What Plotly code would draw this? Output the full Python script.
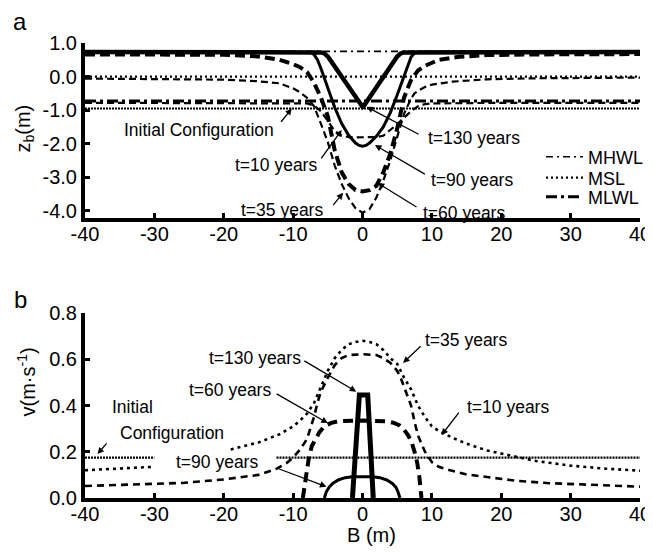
import plotly.graph_objects as go

# ---------------- data: panel a (bed elevation z_b, m) ----------------
B_REF = [-40, 40]
MHWL = [0.75, 0.75]
MSL = [0.0, 0.0]
MLWL = [-0.73, -0.73]
INIT_A = [-0.95, -0.95]

T10_A_X = [-40, -20, -10, -8, -7, -6, -5, -4, -3, -2, -1, 0, 1, 2, 3, 4, 5, 6, 7, 8, 9, 10, 20, 40]
T10_A_Z = [-0.78, -0.78, -0.79, -0.8, -0.86, -1.03, -1.32, -1.62, -1.76, -1.8, -1.81, -1.81, -1.81, -1.8,
           -1.76, -1.6, -1.42, -1.22, -1.03, -0.88, -0.82, -0.8, -0.78, -0.78]

T35_A_X = [-40, -25, -20, -15, -12, -10, -9, -8, -7, -6, -5, -4, -3, -2, -1, 0, 1, 2, 3, 4, 5, 6, 7, 7.5,
           8, 9, 10, 13, 18, 25, 40]
T35_A_Z = [-0.06, -0.07, -0.09, -0.14, -0.2, -0.35, -0.47, -0.63, -0.88, -1.4, -1.95, -2.65, -3.2, -3.62,
           -3.92, -4.05, -3.95, -3.6, -3.1, -2.5, -1.8, -1.1, -0.65, -0.5, -0.42, -0.31, -0.24, -0.15,
           -0.08, -0.05, -0.03]

T60_A_X = [-40, -25, -20, -15, -12, -10, -9, -8, -7, -6, -5, -4, -3, -2, -1, 0, 1, 2, 3, 4, 5, 6, 7, 8, 9,
           11, 14, 18, 25, 40]
T60_A_Z = [0.66, 0.66, 0.65, 0.6, 0.5, 0.37, 0.28, 0.14, -0.18, -0.62, -1.18, -2.2, -2.85, -3.2, -3.38,
           -3.42, -3.38, -3.25, -2.85, -2.3, -1.55, -0.62, -0.1, 0.18, 0.32, 0.5, 0.59, 0.64, 0.66, 0.67]

T90_A_X = [-40, -8, -7.5, -7, -6.5, -6, -5, -4, -3, -2, -1, -0.5, 0, 0.5, 1, 2, 3, 4, 5, 6, 6.5, 7, 7.5, 8, 40]
T90_A_Z = [0.73, 0.73, 0.72, 0.66, 0.5, 0.25, -0.35, -0.92, -1.4, -1.75, -1.98, -2.05, -2.07, -2.05,
           -1.98, -1.78, -1.5, -1.08, -0.55, 0.02, 0.32, 0.58, 0.7, 0.73, 0.73]

T130_A_X = [-40, -6.5, -6, -5.5, -5, -4.5, -4, -3, -2, -1, -0.3, 0, 0.3, 1, 2, 3, 4, 4.5, 5, 5.5, 6, 40]
T130_A_Z = [0.73, 0.73, 0.72, 0.69, 0.6, 0.45, 0.3, -0.02, -0.33, -0.62, -0.84, -0.9, -0.84, -0.62,
            -0.33, -0.02, 0.3, 0.45, 0.6, 0.69, 0.72, 0.73]

# ---------------- data: panel b (velocity v, m/s) ----------------
INIT_B_X = [-40, -30, None, -12.4, 40]
INIT_B_V = [0.175, 0.175, None, 0.175, 0.175]

T10_B_X = [-40, -35, -30, None, -19, -15, -12, -10, -9, -8, -7, -6, -5, -4, -3, -2, -1, 0, 1, 2, 3, 4, 5,
           6, 7, 8, 9, 10, 11, 13, 15, 18, 21, 25, 30, 35, 40]
T10_B_V = [0.12, 0.128, 0.135, None, 0.21, 0.24, 0.275, 0.31, 0.335, 0.365, 0.41, 0.48, 0.55, 0.605, 0.64,
           0.665, 0.675, 0.68, 0.675, 0.665, 0.64, 0.605, 0.58, 0.52, 0.47, 0.4, 0.35, 0.31, 0.29, 0.26,
           0.235, 0.205, 0.185, 0.16, 0.14, 0.127, 0.118]

T35_B_X = [-40, -30, -26, -20, -15, -12.5, -11, -10, -9, -8, -7.5, -7, -6.5, -6, -5, -4, -3, -2, 0, 2, 3,
           4, 5, 5.5, 6, 6.5, 7, 7.5, 8, 9, 10, 11, 12, 15, 18, 22, 27, 33, 40]
T35_B_V = [0.052, 0.06, 0.065, 0.08, 0.1, 0.125, 0.15, 0.175, 0.21, 0.255, 0.3, 0.35, 0.41, 0.46, 0.52,
           0.575, 0.605, 0.618, 0.622, 0.618, 0.605, 0.585, 0.55, 0.52, 0.48, 0.44, 0.4, 0.33, 0.27, 0.2,
           0.155, 0.135, 0.125, 0.102, 0.09, 0.075, 0.064, 0.056, 0.049]

T60_B_X = [-8.6, -8.3, -8.0, -7.7, -7.3, -6.9, -6.2, -5.5, -4.5, -3.5, 0, 3.5, 4.5, 5.3, 6.0, 6.6, 7.1,
           7.5, 7.9, 8.2, 8.5]
T60_B_V = [0.0, 0.07, 0.13, 0.18, 0.225, 0.25, 0.285, 0.31, 0.325, 0.332, 0.335, 0.332, 0.325, 0.315,
           0.295, 0.27, 0.24, 0.2, 0.15, 0.09, 0.0]

T90_B_X = [-5.5, -5.2, -4.8, -4.3, -3.5, -2.5, -1.5, 0, 1.5, 2.5, 3.5, 4.3, 4.8, 5.1, 5.4]
T90_B_V = [0.0, 0.028, 0.047, 0.063, 0.078, 0.088, 0.092, 0.093, 0.092, 0.088, 0.078, 0.063, 0.047,
           0.028, 0.0]

T130_B_X = [-1.45, -0.45, 0.75, 1.55]
T130_B_V = [0.0, 0.445, 0.445, 0.0]

X_TICKS = [-40, -30, -20, -10, 0, 10, 20, 30, 40]
X_TICKTEXT = ["-40", "-30", "-20", "-10", "0", "10", "20", "30", "40"]
YA_TICKS = [1.0, 0.0, -1.0, -2.0, -3.0, -4.0]
YA_TICKTEXT = ["1.0", "0.0", "-1.0", "-2.0", "-3.0", "-4.0"]
YB_TICKS = [0.0, 0.2, 0.4, 0.6, 0.8]
YB_TICKTEXT = ["0.0", "0.2", "0.4", "0.6", "0.8"]

FONT = "Arial, Liberation Sans, Helvetica, sans-serif"
BLACK = "black"

# The page body has an 8px default margin: the figure is sized/offset to compensate.
PAGE_OFF = 8
PLOT_L, PLOT_R, PLOT_T, PLOT_B = 85, 640, 43, 498   # plot area in page pixels
FIG_W, FIG_H = 653 - PAGE_OFF, 555 - PAGE_OFF

fig = go.Figure()


def add(x, y, width, dash, xa="x", ya="y", name=None, legend=None):
    fig.add_trace(go.Scatter(
        x=x, y=y, mode="lines", xaxis=xa, yaxis=ya, name=name, showlegend=legend is not None,
        legend=legend if legend else "legend",
        line=dict(color=BLACK, width=width, dash=dash), connectgaps=False, hoverinfo="skip"))


# panel a reference levels
add(B_REF, MHWL, 1.6, "7px,4px,2px,4px", name="MHWL", legend="legend")
add(B_REF, MSL, 2.2, "2px,3px", name="MSL", legend="legend2")
add(B_REF, MLWL, 3, "11px,4px,3px,4px", name="MLWL", legend="legend3")
add(B_REF, INIT_A, 2.2, "2px,1px")
# panel a profiles
add(T10_A_X, T10_A_Z, 2.2, "7px,4px")
add(T35_A_X, T35_A_Z, 2.2, "7px,4px")
add(T60_A_X, T60_A_Z, 4, "10px,5px")
add(T90_A_X, T90_A_Z, 3, "solid")
add(T130_A_X, T130_A_Z, 4.5, "solid")

# panel b
add(INIT_B_X, INIT_B_V, 2.2, "2px,1px", xa="x2", ya="y2")
add(T10_B_X, T10_B_V, 2.6, "3px,4px", xa="x2", ya="y2")
add(T35_B_X, T35_B_V, 2.6, "7px,5px", xa="x2", ya="y2")
add(T60_B_X, T60_B_V, 4, "10px,6px", xa="x2", ya="y2")
add(T90_B_X, T90_B_V, 3, "solid", xa="x2", ya="y2")
add(T130_B_X, T130_B_V, 5, "solid", xa="x2", ya="y2")

axis_common = dict(showgrid=False, zeroline=False, showline=True, linecolor=BLACK, linewidth=4,
                   ticks="inside", ticklen=5, tickwidth=2.5, tickcolor=BLACK,
                   tickfont=dict(family=FONT, size=20, color=BLACK))
x_common = dict(axis_common, ticklabelstandoff=-5)

PW = PLOT_R - PLOT_L
PH = PLOT_B - PLOT_T


def px_to_paper(px, py):
    return (px - PLOT_L) / PW, (PLOT_B - py) / PH


def legend_at(py):
    lx, ly = px_to_paper(541, py)
    return dict(x=lx, y=ly, xanchor="left", yanchor="middle", bgcolor="rgba(0,0,0,0)",
                font=dict(family=FONT, size=18, color=BLACK), itemwidth=37, borderwidth=0)


fig.update_layout(
    width=FIG_W, height=FIG_H,
    margin=dict(l=PLOT_L - PAGE_OFF, r=FIG_W - (PLOT_R - PAGE_OFF), t=PLOT_T - PAGE_OFF,
                b=FIG_H - (PLOT_B - PAGE_OFF), autoexpand=False),
    paper_bgcolor="white", plot_bgcolor="white",
    font=dict(family=FONT, color=BLACK),
    xaxis=dict(domain=[0, 1], range=[-40, 40], anchor="y", tickvals=X_TICKS, ticktext=X_TICKTEXT,
               **x_common),
    yaxis=dict(domain=[(PLOT_B - 218) / PH, 1.0], range=[-4.21, 1.0], anchor="x", tickvals=YA_TICKS,
               ticktext=YA_TICKTEXT, **axis_common),
    xaxis2=dict(domain=[0, 1], range=[-40, 40], anchor="y2", tickvals=X_TICKS, ticktext=X_TICKTEXT,
                **x_common),
    yaxis2=dict(domain=[0, (PLOT_B - 313) / PH], range=[0, 0.8], anchor="x2", tickvals=YB_TICKS,
                ticktext=YB_TICKTEXT, **axis_common),
    legend=legend_at(157),
    legend2=legend_at(178),
    legend3=legend_at(197),
)

ANN_SIZE = 17.5


def label(text, x, y, xref="x", yref="y", size=ANN_SIZE, **kw):
    fig.add_annotation(text=text, x=x, y=y, xref=xref, yref=yref, showarrow=False,
                       xanchor="center", yanchor="middle",
                       font=dict(family=FONT, size=size, color=BLACK), **kw)


def arrow(tip_x, tip_y, tail_x, tail_y, xref="x", yref="y"):
    fig.add_annotation(text="", x=tip_x, y=tip_y, ax=tail_x, ay=tail_y, xref=xref, yref=yref,
                       axref=xref, ayref=yref, showarrow=True, arrowhead=2, arrowsize=1,
                       arrowwidth=1.3, arrowcolor=BLACK)


# panel a labels
label("Initial Configuration", -23.5, -1.59)
arrow(-10.2, -0.95, -11.9, -1.39)
label("t=10 years", -12.5, -2.63)
arrow(-3.0, -1.59, -6.1, -2.48)
label("t=35 years", -11.6, -3.97)
arrow(-2.8, -3.46, -4.4, -3.87)
label("t=130 years", 16.1, -1.83)
arrow(0.6, -0.9, 8.3, -1.74)
label("t=90 years", 15.8, -3.08)
arrow(1.8, -2.04, 9.2, -2.93)
label("t=60 years", 14.6, -4.05)
arrow(2.2, -3.17, 8.0, -3.91)

# panel b labels
label("Initial", -33.1, 0.395, xref="x2", yref="y2")
label("Configuration", -27.5, 0.281, xref="x2", yref="y2")
arrow(-38.2, 0.19, -36.7, 0.243, xref="x2", yref="y2")
label("t=130 years", -15.5, 0.605, xref="x2", yref="y2")
arrow(-0.9, 0.46, -8.6, 0.597, xref="x2", yref="y2")
label("t=60 years", -19.1, 0.467, xref="x2", yref="y2")
arrow(-5.0, 0.324, -12.6, 0.454, xref="x2", yref="y2")
label("t=90 years", -21.0, 0.157, xref="x2", yref="y2")
arrow(-5.2, 0.049, -12.4, 0.13, xref="x2", yref="y2")
label("t=35 years", 14.9, 0.683, xref="x2", yref="y2")
arrow(5.84, 0.584, 8.6, 0.662, xref="x2", yref="y2")
label("t=10 years", 20.95, 0.395, xref="x2", yref="y2")
arrow(11.4, 0.272, 14.05, 0.376, xref="x2", yref="y2")

# panel letters and axis titles
px_, py_ = px_to_paper(20, 22)
label("a", px_, py_, xref="paper", yref="paper", size=24)
px_, py_ = px_to_paper(20, 299)
label("b", px_, py_, xref="paper", yref="paper", size=24)

px_, py_ = px_to_paper(24, 128.5)
label("z<sub>b</sub>(m)", px_, py_, xref="paper", yref="paper", size=20, textangle=-90)
px_, py_ = px_to_paper(26, 382.5)
label("v(m·s<sup>-1</sup>)", px_, py_, xref="paper", yref="paper", size=20, textangle=-90)
px_, py_ = px_to_paper(371, 535)
label("B (m)", px_, py_, xref="paper", yref="paper", size=20)

fig.write_html("out.html")
